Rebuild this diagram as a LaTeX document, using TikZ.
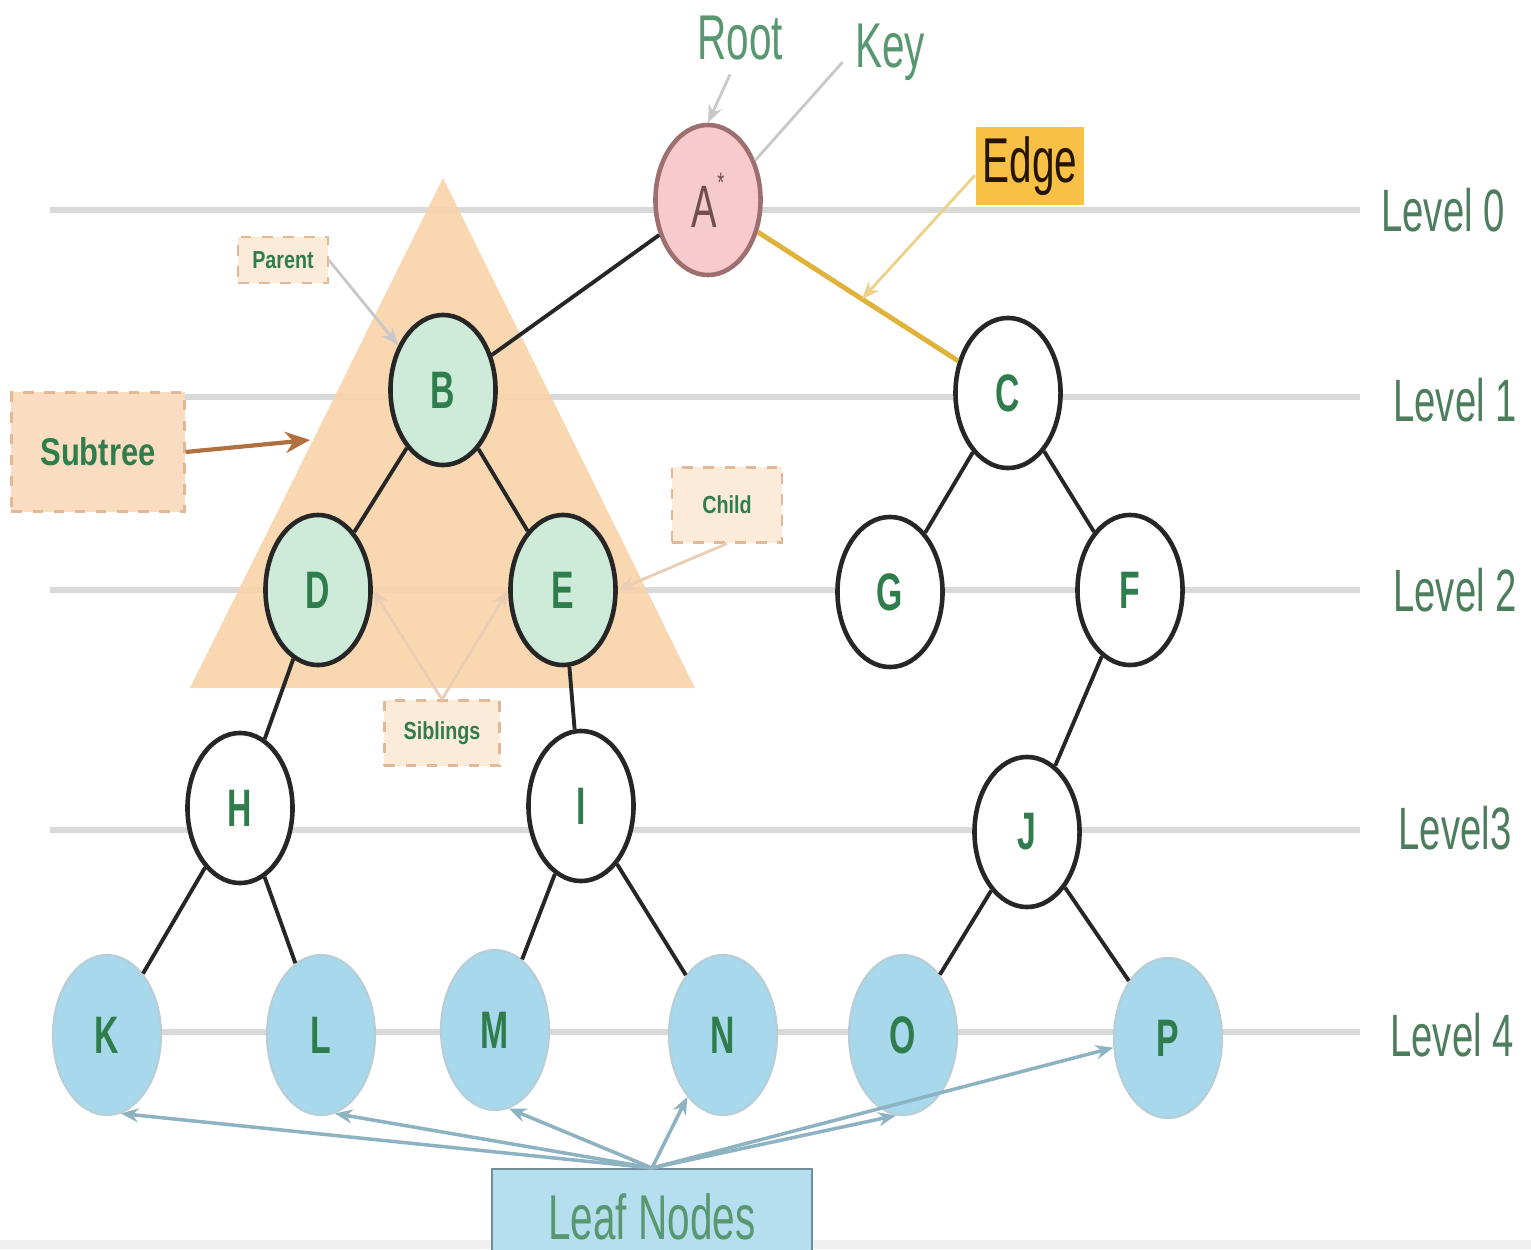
\documentclass[tikz,border=0pt]{standalone}
\usepackage{fontspec}
\setmainfont[FakeStretch=0.64]{Liberation Sans}
\newfontfamily\notefont[FakeStretch=0.8]{Liberation Sans}
\usetikzlibrary{shapes.geometric,arrows.meta}
\definecolor{levelgray}{HTML}{D9D9D9}
\definecolor{peach}{HTML}{F8D4AA}
\definecolor{peachbox}{HTML}{FADCC0}
\definecolor{peachlight}{HTML}{FDEBDA}
\definecolor{peachborder}{HTML}{E2B896}
\definecolor{mint}{HTML}{CDEBD8}
\definecolor{leafblue}{HTML}{A8D8EC}
\definecolor{pinkA}{HTML}{F7CACD}
\definecolor{pinkborder}{HTML}{9E6F6F}
\definecolor{tgreen}{HTML}{2F7D4C}
\definecolor{lvgreen}{HTML}{4C7D5C}
\definecolor{leafline}{HTML}{8DB2C2}
\definecolor{edgeyellow}{HTML}{E0B23A}
\definecolor{edgebox}{HTML}{F6C145}
\definecolor{brownarrow}{HTML}{B0703F}
\definecolor{pointer}{HTML}{C8C8C8}
\tikzset{
  x=0.01cm, y=-0.01cm,
  tnode/.style={ellipse, draw=black!85, line width=1.3pt, minimum width=1.05cm,
    minimum height=1.5cm, inner sep=0pt, fill=white,
    font=\bfseries\fontsize{15}{15}\selectfont, text=tgreen},
  greennode/.style={tnode, fill=mint},
  leafnode/.style={tnode, fill=leafblue, draw=leafblue!80!black!60, line width=0.6pt, minimum width=1.08cm, minimum height=1.6cm},
  treeedge/.style={line width=1.1pt, black!85},
  levelline/.style={line width=1.8pt, levelgray},
  leveltext/.style={font=\fontsize{17}{17}\selectfont, text=lvgreen},
  notebox/.style={draw=peachborder, dashed, fill=peachlight, line width=0.6pt, inner sep=4pt,
    font=\notefont\bfseries\fontsize{7}{7}\selectfont, text=tgreen},
  pointerline/.style={pointer, line width=0.8pt, -{Stealth[length=5pt,width=4pt]}},
  leafarrow/.style={leafline, line width=1.0pt, -{Stealth[length=5pt,width=4pt]}},
}
\begin{document}
\begin{tikzpicture}
\path[use as bounding box] (0,0) rectangle (1531,1249);
\fill[gray!12] (0,1240) rectangle (1531,1249);

% level lines
\draw[levelline] (50,210) -- (1360,210);
\draw[levelline] (50,397) -- (1360,397);
\draw[levelline] (50,590) -- (1360,590);
\draw[levelline] (50,830) -- (1360,830);
\draw[levelline] (120,1032) -- (1360,1032);

\node[leveltext] (L0) at (1443,210) {Level 0};
\node[leveltext] (L1) at (1455,400) {Level 1};
\node[leveltext] (L2) at (1455,590) {Level 2};
\node[leveltext] (L3) at (1455,828) {Level3};
\node[leveltext] (L4) at (1452,1035) {Level 4};

% subtree triangle
\fill[peach, fill opacity=0.92] (443,178) -- (695,688) -- (190,688) -- cycle;
\coordinate (subtip) at (310,440);

% nodes
\node[tnode, fill=pinkA, draw=pinkborder, text=pinkborder!70!black, font=\fontsize{17}{17}\selectfont] (A) at (708,200) {A\raisebox{1.1ex}{\fontsize{8}{8}\selectfont*}};
\node[greennode] (B) at (443,390) {B};
\node[tnode] (C) at (1008,393) {C};
\node[greennode] (D) at (318,590) {D};
\node[greennode] (E) at (563,590) {E};
\node[tnode] (G) at (890,592) {G};
\node[tnode] (F) at (1130,590) {F};
\node[tnode] (H) at (240,808) {H};
\node[tnode] (I) at (581,806) {I};
\node[tnode] (J) at (1027,832) {J};
\node[leafnode] (K) at (107,1035) {K};
\node[leafnode] (L) at (321,1035) {L};
\node[leafnode] (M) at (495,1030) {M};
\node[leafnode] (N) at (723,1035) {N};
\node[leafnode] (O) at (903,1035) {O};
\node[leafnode] (P) at (1168,1038) {P};

% edges
\draw[treeedge] (A) -- (B);
\draw[edgeyellow, line width=1.4pt] (A) -- node[pos=0.52, coordinate] (ep) {} (C);
\draw[treeedge] (B) -- (D);
\draw[treeedge] (B) -- (E);
\draw[treeedge] (C) -- (G);
\draw[treeedge] (C) -- (F);
\draw[treeedge] (D) -- (H);
\draw[treeedge] (E) -- (I);
\draw[treeedge] (F) -- (J);
\draw[treeedge] (H) -- (K);
\draw[treeedge] (H) -- (L);
\draw[treeedge] (I) -- (M);
\draw[treeedge] (I) -- (N);
\draw[treeedge] (J) -- (O);
\draw[treeedge] (J) -- (P);

% labels at top
\node[text=tgreen!80!white, font=\fontsize{18}{18}\selectfont] (root) at (740,38) {Root};
\node[text=tgreen!80!white, font=\fontsize{18}{18}\selectfont] (key) at (890,52) {Key};
\draw[pointerline] (root.south) ++(-10,2) coordinate (rs) -- (A.north);
\draw[pointer, line width=0.8pt] (key.west) ++(0,10) coordinate (ks) -- (A.40);
\node[fill=edgebox, text=black!75!orange!60!black, font=\fontsize{18}{18}\selectfont, minimum width=1.04cm, minimum height=0.77cm, inner sep=2pt] (edge) at (1030,166) {Edge};
\draw[pointerline, edgeyellow!60!white] (edge.south west) ++(0,-30) coordinate (es) -- (ep);

% annotation boxes
\node[notebox] (parent) at (283,260) {Parent};
\draw[pointerline] (parent.east) -- (B.135);
\node[notebox, fill=peachbox, font=\notefont\bfseries\fontsize{11}{11}\selectfont, minimum width=1.73cm, minimum height=1.19cm] (subtree) at (98,452) {Subtree};
\draw[brownarrow, line width=1.2pt, -{Stealth[length=7pt,width=6pt]}] (subtree.east) -- (subtip);
\node[notebox, minimum width=1.1cm, minimum height=0.75cm] (child) at (727,505) {Child};
\draw[pointerline, peachborder!70!white] (child.south) -- (E.east);
\node[notebox, minimum width=1.15cm, minimum height=0.65cm] (sib) at (442,733) {Siblings};
\draw[pointerline, peachborder!70!white] (sib.north) -- (D.east);
\draw[pointerline, peachborder!70!white] (sib.north) -- (E.west);

% leaf nodes box
\node[fill=leafblue!85!white, draw=leafline!80!black, line width=0.6pt, minimum width=3.2cm, minimum height=0.95cm, anchor=north, text=tgreen!80!white, font=\fontsize{18}{18}\selectfont] (leaf) at (652,1168) {Leaf Nodes};
\draw[leafarrow] (leaf.north) -- (K.280);
\draw[leafarrow] (leaf.north) -- (L.280);
\draw[leafarrow] (leaf.north) -- (M.280);
\draw[leafarrow] (leaf.north) -- (N.240);
\draw[leafarrow] (leaf.north) -- (O.265);
\draw[leafarrow] (leaf.north) -- (P.190);
\end{tikzpicture}
\end{document}
